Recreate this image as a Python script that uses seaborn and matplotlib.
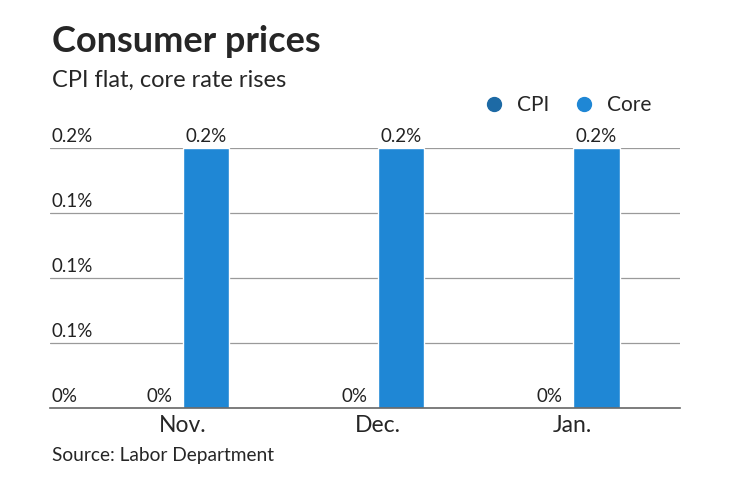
import pandas as pd
import seaborn as sns
import matplotlib.pyplot as plt

# --- data ---
months = ["Nov.", "Dec.", "Jan."]
cpi = [0.0, 0.0, 0.0]
core = [0.2, 0.2, 0.2]
y_ticks = [0.0, 0.05, 0.1, 0.15, 0.2]
y_tick_labels = ["0%", "0.1%", "0.1%", "0.1%", "0.2%"]

df = pd.DataFrame({
    "month": months * 2,
    "series": ["CPI"] * 3 + ["Core"] * 3,
    "value": cpi + core,
})

sns.set_style("white")
plt.rcParams["font.family"] = ["Lato", "DejaVu Sans"]

colors = {"CPI": "#1d6aa5", "Core": "#1f87d5"}

fig = plt.figure(figsize=(7.4, 4.82), dpi=100)
ax = fig.add_axes([50 / 740, 1 - 408 / 482, 630 / 740, 260 / 482])

sns.barplot(data=df, x="month", y="value", hue="series", palette=colors,
            width=0.48, saturation=1, legend=False, ax=ax)

ax.set_xlim(-0.68, 2.55)
ax.set_ylim(0, 0.2)
ax.set_yticks(y_ticks)
ax.set_yticklabels([])
for sp in ["top", "right", "left"]:
    ax.spines[sp].set_visible(False)
ax.spines["bottom"].set_color("#666666")
ax.spines["bottom"].set_linewidth(1.2)
for t in y_ticks[1:]:
    ax.axhline(t, color="#9a9a9a", lw=0.9, zorder=0)
ax.tick_params(axis="y", length=0)
ax.tick_params(axis="x", length=0, labelsize=16.5, pad=5)
ax.set_xlabel("")
ax.set_ylabel("")

# y tick labels sit above the grid lines, inside the plot
for t, lab in zip(y_ticks, y_tick_labels):
    ax.text(-0.67, t + 0.002, lab, ha="left", va="bottom", fontsize=13.5,
            color="#222222")

# value labels
for c in ax.containers:
    ax.bar_label(c, labels=[f"{v:g}%" for v in c.datavalues], padding=2,
                 fontsize=13.5, color="#222222", clip_on=False)

# legend
handles = [plt.Line2D([], [], marker="o", ls="", markersize=10,
                      color=colors[s]) for s in ["CPI", "Core"]]
fig.legend(handles, ["CPI", "Core"], loc="center", bbox_to_anchor=(0.76, 1 - 105 / 482),
           ncol=2, frameon=False, fontsize=15, handletextpad=0.1,
           columnspacing=0.7)

fig.text(52 / 740, 1 - 42 / 482, "Consumer prices", fontsize=26,
         fontweight="bold", va="center", ha="left")
fig.text(52 / 740, 1 - 80 / 482, "CPI flat, core rate rises", fontsize=17,
         va="center", ha="left")
fig.text(52 / 740, 1 - 456 / 482, "Source: Labor Department", fontsize=13.8,
         va="center", ha="left")

fig.savefig("out.png", dpi=100)
